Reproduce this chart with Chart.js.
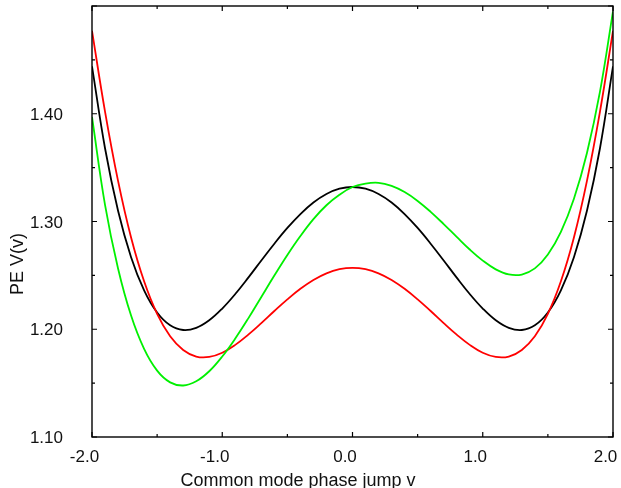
<!DOCTYPE html>
<html>
<head>
<meta charset="utf-8">
<script src="https://cdn.jsdelivr.net/npm/chart.js@4.4.1/dist/chart.umd.min.js"></script>
<style>
  html, body { margin: 0; padding: 0; background: #fff; }
  #wrap { width: 621px; height: 488px; position: relative; }
</style>
</head>
<body>
<div id="wrap"><canvas id="c" width="621" height="488"></canvas></div>
<script>
// Common mode phase jump v
const vValues = [-2.0,-1.9,-1.8,-1.7,-1.6,-1.5,-1.4,-1.3,-1.2,-1.1,-1.0,-0.9,-0.8,-0.7,-0.6,-0.5,-0.4,-0.3,-0.2,-0.1,0.0,
                 0.1,0.2,0.3,0.4,0.5,0.6,0.7,0.8,0.9,1.0,1.1,1.2,1.3,1.4,1.5,1.6,1.7,1.8,1.9,2.0];
// PE V(v) curves
const blackSeries = [1.4440,1.3680,1.3100,1.2669,1.2361,1.2155,1.2036,1.1993,1.2013,1.2083,1.2192,1.2327,1.2479,1.2638,1.2794,1.2940,1.3069,1.3176,1.3255,1.3304,1.3320,
                     1.3304,1.3255,1.3176,1.3069,1.2940,1.2794,1.2638,1.2479,1.2327,1.2192,1.2083,1.2013,1.1993,1.2036,1.2155,1.2361,1.2669,1.3100,1.3680,1.4440];
const redSeries   = [1.4770,1.4020,1.3377,1.2852,1.2445,1.2143,1.1935,1.1808,1.1747,1.1743,1.1782,1.1855,1.1950,1.2057,1.2169,1.2277,1.2375,1.2457,1.2519,1.2557,1.2570,
                     1.2557,1.2519,1.2457,1.2375,1.2277,1.2169,1.2057,1.1950,1.1855,1.1782,1.1743,1.1747,1.1808,1.1935,1.2143,1.2445,1.2852,1.3377,1.4020,1.4770];
const greenSeries = [1.3970,1.3155,1.2564,1.2127,1.1818,1.1616,1.1507,1.1478,1.1517,1.1610,1.1747,1.1914,1.2101,1.2300,1.2498,1.2689,1.2865,1.3022,1.3151,1.3248,1.3320,
                     1.3352,1.3359,1.3330,1.3273,1.3191,1.3090,1.2976,1.2857,1.2740,1.2637,1.2556,1.2509,1.2508,1.2565,1.2694,1.2904,1.3211,1.3636,1.4205,1.4950];

const xTickValues = [-2.0,-1.5,-1.0,-0.5,0.0,0.5,1.0,1.5,2.0];
const xTickLabels = ['-2.0','','-1.0','','0.0','','1.0','','2.0'];
const yTickValues = [1.10,1.15,1.20,1.25,1.30,1.35,1.40,1.45,1.50];
const yTickLabels = ['1.10','','1.20','','1.30','','1.40','',''];
const xTitle = 'Common mode phase jump v';
const yTitle = 'PE V(v)';

function pts(ys) { return vValues.map((v, i) => ({ x: v, y: ys[i] })); }

const FONT = '"Liberation Sans", Arial, Helvetica, sans-serif';

const framePlugin = {
  id: 'framePlugin',
  afterDatasetsDraw(chart) {
    const ctx = chart.ctx;
    const xs = chart.scales.x, ys = chart.scales.y;
    const a = chart.chartArea;
    ctx.save();
    ctx.strokeStyle = '#000';
    ctx.lineWidth = 1.4;
    ctx.strokeRect(a.left, a.top, a.right - a.left, a.bottom - a.top);
    ctx.lineWidth = 1.2;
    ctx.beginPath();
    xTickValues.forEach((v, i) => {
      const px = xs.getPixelForValue(v);
      const len = (i % 2 === 0) ? 5 : 3;
      ctx.moveTo(px, a.bottom); ctx.lineTo(px, a.bottom - len);
      ctx.moveTo(px, a.top); ctx.lineTo(px, a.top + len);
    });
    yTickValues.forEach((v, i) => {
      const py = ys.getPixelForValue(v);
      const len = (i % 2 === 0) ? 5 : 3;
      ctx.moveTo(a.left, py); ctx.lineTo(a.left + len, py);
      ctx.moveTo(a.right, py); ctx.lineTo(a.right - len, py);
    });
    ctx.stroke();

    ctx.fillStyle = '#111';
    ctx.font = '17px ' + FONT;
    ctx.textBaseline = 'alphabetic';
    ctx.textAlign = 'center';
    xTickValues.forEach((v, i) => {
      if (!xTickLabels[i]) return;
      const px = xs.getPixelForValue(v);
      ctx.fillText(xTickLabels[i], px - 7.5, 462);
    });
    ctx.textAlign = 'right';
    yTickValues.forEach((v, i) => {
      if (!yTickLabels[i]) return;
      const py = ys.getPixelForValue(v);
      ctx.fillText(yTickLabels[i], 63, py + 6.2);
    });

    ctx.font = '18px ' + FONT;
    ctx.textAlign = 'center';
    ctx.fillText(xTitle, 298, 486);

    ctx.save();
    ctx.translate(23, 264);
    ctx.rotate(-Math.PI / 2);
    ctx.fillText(yTitle, 0, 0);
    ctx.restore();
    ctx.restore();
  }
};

const ds = (data, color) => ({
  data: pts(data), borderColor: color, backgroundColor: color,
  borderWidth: 1.8, pointRadius: 0, tension: 0.4, fill: false
});

new Chart(document.getElementById('c'), {
  type: 'line',
  data: {
    datasets: [
      ds(greenSeries, '#00f000'),
      ds(redSeries, '#ff0000'),
      ds(blackSeries, '#000000')
    ]
  },
  options: {
    responsive: false,
    animation: false,
    devicePixelRatio: 1,
    layout: { padding: { left: 92, right: 8, top: 6, bottom: 51 } },
    plugins: { legend: { display: false }, tooltip: { enabled: false } },
    scales: {
      x: { type: 'linear', min: -2, max: 2, display: false },
      y: { type: 'linear', min: 1.1, max: 1.5, display: false }
    }
  },
  plugins: [framePlugin]
});
</script>
</body>
</html>
